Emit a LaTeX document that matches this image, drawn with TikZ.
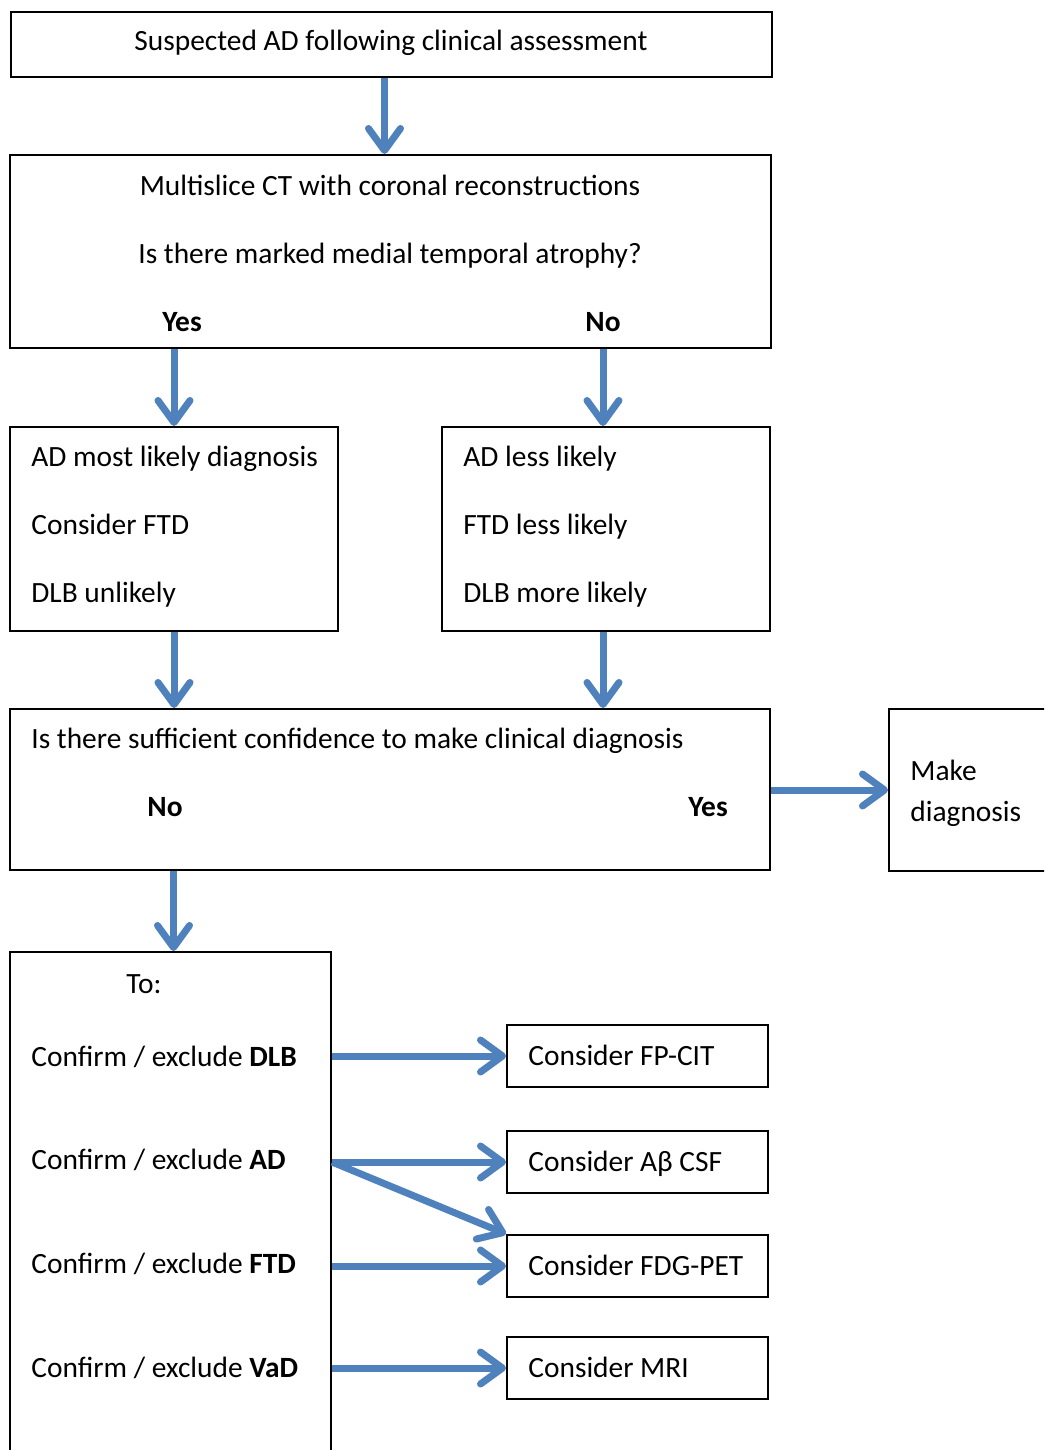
\documentclass[tikz,border=0pt]{standalone}
\usepackage{fontspec}
\setmainfont{Carlito}
\usetikzlibrary{arrows.meta,fit}
\definecolor{flowblue}{RGB}{79,129,189}
\begin{document}
\begin{tikzpicture}[x=0.5pt,y=-0.5pt,
    box/.style={draw,line width=1pt,inner sep=0pt},
    txt/.style={inner sep=0pt,font=\fontsize{14.7}{17.6}\selectfont},
    arr/.style={draw=flowblue,line width=3.5pt,-{Straight Barb[length=11pt,width=16pt,round]}}]
      \useasboundingbox (0,0) rectangle (1044,1450);
      \clip (0,0) rectangle (1044,1450);
      \node[box,fit={(11,12) (772,77)}] (start) {};
      \node[txt,anchor=base] (startt) at (391,51) {Suspected AD following clinical assessment};
      \node[box,fit={(10,155) (771,348)}] (ct) {};
      \node[txt,anchor=base] (ct1) at (390,195) {Multislice CT with coronal reconstructions};
      \node[txt,anchor=base] (ct2) at (390,263) {Is there marked medial temporal atrophy?};
      \node[txt,anchor=base] (ctyes) at (182,331) {\textbf{Yes}};
      \node[txt,anchor=base] (ctno) at (603,331) {\textbf{No}};
      \node[box,fit={(10,427) (338,631)}] (left) {};
      \node[txt,anchor=base west] (left1) at (31,466) {AD most likely diagnosis};
      \node[txt,anchor=base west] (left2) at (31,534) {Consider FTD};
      \node[txt,anchor=base west] (left3) at (31,602) {DLB unlikely};
      \node[box,fit={(442,427) (770,631)}] (right) {};
      \node[txt,anchor=base west] (right1) at (463,466) {AD less likely};
      \node[txt,anchor=base west] (right2) at (463,534) {FTD less likely};
      \node[txt,anchor=base west] (right3) at (463,602) {DLB more likely};
      \node[box,fit={(10,709) (770,870)}] (conf) {};
      \node[txt,anchor=base west] (conf1) at (31,748) {Is there sufficient confidence to make clinical diagnosis};
      \node[txt,anchor=base] (confno) at (165,816) {\textbf{No}};
      \node[txt,anchor=base] (confyes) at (708,816) {\textbf{Yes}};
      \node[box,fit={(889,709) (1070,871)}] (make) {};
      \node[txt,anchor=base west] (make1) at (910,780) {Make};
      \node[txt,anchor=base west] (make2) at (910,821) {diagnosis};
      \node[box,fit={(10,952) (331,1480)}] (to) {};
      \node[txt,anchor=base west] (to0) at (126,993) {To:};
      \node[txt,anchor=base west] (to1) at (31,1066) {Confirm / exclude \textbf{DLB}};
      \node[txt,anchor=base west] (to2) at (31,1169) {Confirm / exclude \textbf{AD}};
      \node[txt,anchor=base west] (to3) at (31,1273) {Confirm / exclude \textbf{FTD}};
      \node[txt,anchor=base west] (to4) at (31,1377) {Confirm / exclude \textbf{VaD}};
      \node[box,fit={(507,1025) (768,1087)}] (fpcit) {};
      \node[txt,anchor=base west] (fpcitt) at (528,1065) {Consider FP-CIT};
      \node[box,fit={(507,1131) (768,1193)}] (csf) {};
      \node[txt,anchor=base west] (csft) at (528,1171) {Consider Aβ CSF};
      \node[box,fit={(507,1235) (768,1297)}] (fdg) {};
      \node[txt,anchor=base west] (fdgt) at (528,1275) {Consider FDG-PET};
      \node[box,fit={(507,1337) (768,1399)}] (mri) {};
      \node[txt,anchor=base west] (mrit) at (528,1377) {Consider MRI};
      \begin{scope}[arr]
        \draw ([xshift=-3.5pt]start.south) to ([xshift=-3.5pt]start.south |- ct.north);
        \draw (left.north |- ct.south) to (left.north);
        \draw (ctno |- ct.south) to (ctno |- right.north);
        \draw (left.south) to (left.south |- conf.north);
        \draw (ctno |- right.south) to (ctno |- conf.north);
        \draw (make.west -| conf.east) to (make.west);
        \draw ([xshift=1.5pt]to.north |- conf.south) to ([xshift=1.5pt]to.north);
        \draw (fpcit.west -| to.east) to (fpcit.west);
        \draw (csf.west -| to.east) to (csf.west);
        \draw (csf.west -| to.east) to (fdg.north west);
        \draw (fdg.west -| to.east) to (fdg.west);
        \draw (mri.west -| to.east) to (mri.west);
      \end{scope}
    \end{tikzpicture}
\end{document}
